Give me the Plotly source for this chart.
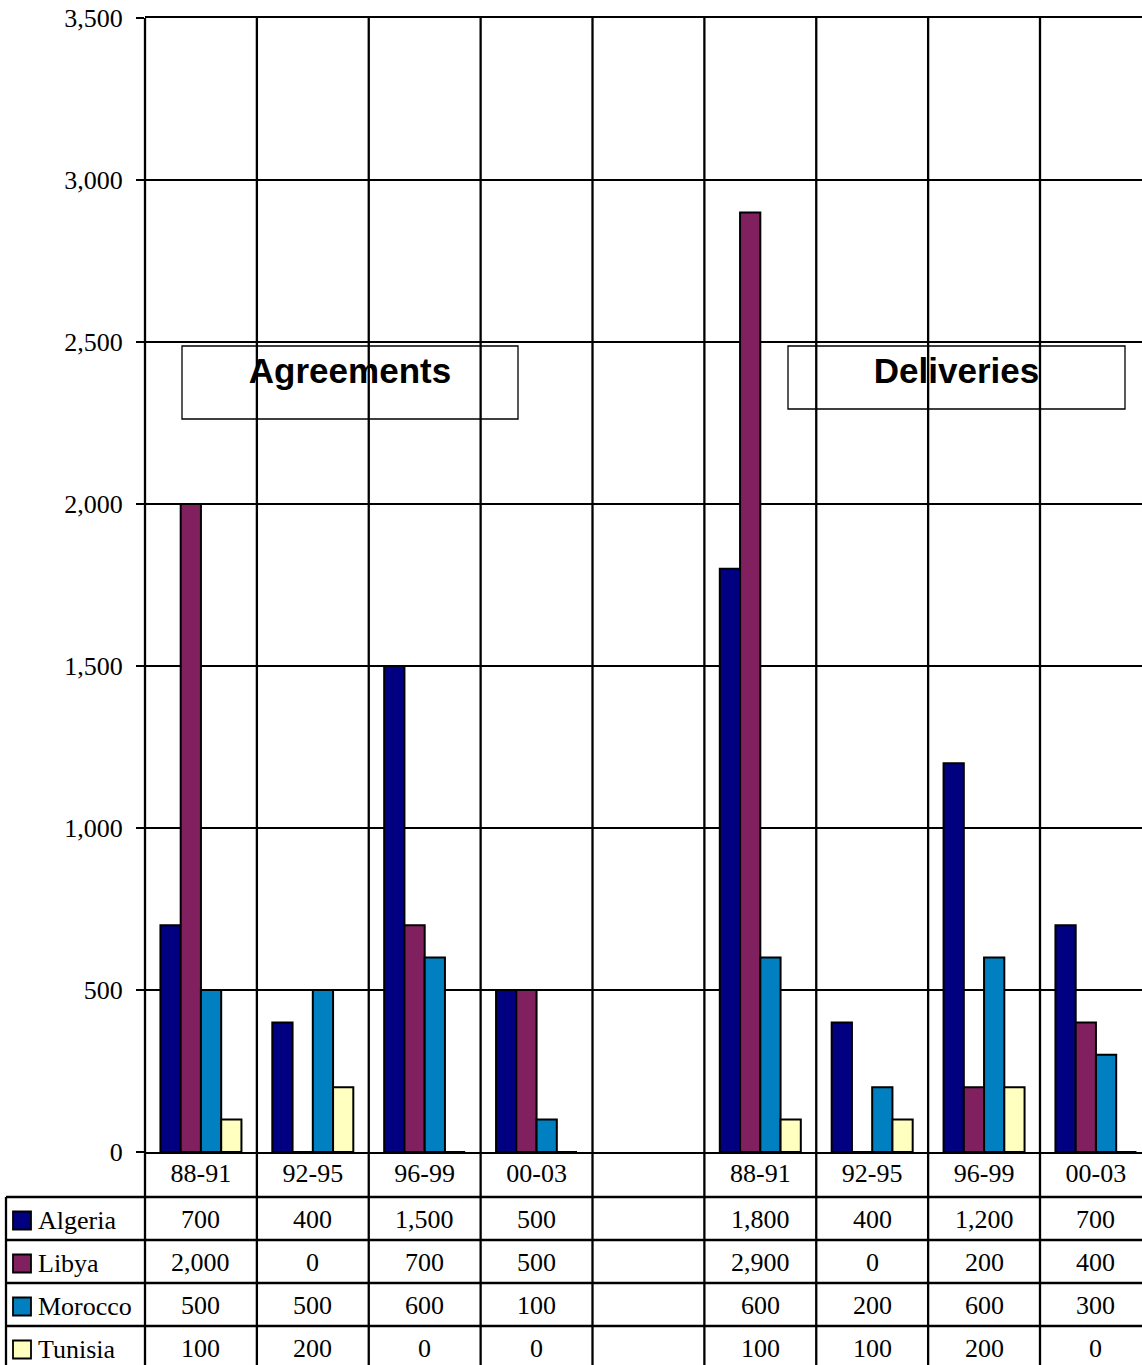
import plotly.graph_objects as go

# ---- data -------------------------------------------------------------
periods = ["88-91", "92-95", "96-99", "00-03"]
countries = ["Algeria", "Libya", "Morocco", "Tunisia"]
colors = ["#000080", "#80205F", "#0080C0", "#FFFFC0"]

agreements = {
    "Algeria": [700, 400, 1500, 500],
    "Libya": [2000, 0, 700, 500],
    "Morocco": [500, 500, 600, 100],
    "Tunisia": [100, 200, 0, 0],
}
deliveries = {
    "Algeria": [1800, 400, 1200, 700],
    "Libya": [2900, 0, 200, 400],
    "Morocco": [600, 200, 600, 300],
    "Tunisia": [100, 100, 200, 0],
}

# one empty slot separates the two panels
slot_labels = periods + [""] + periods
slot_x = list(range(len(slot_labels)))

W, H = 1142, 1365
ML, MR, MT, MB = 145, 0, 18, 213
PW, PH = W - ML - MR, H - MT - MB
SLOT_PX = 111.875  # width of one category slot
LW = 2.3           # rule width


def px(xp):
    return (xp - ML) / PW


def py(yp):
    return (MT + PH - yp) / PH


fig = go.Figure()

for name, col in zip(countries, colors):
    vals = agreements[name] + [None] + deliveries[name]
    fig.add_trace(go.Bar(
        x=slot_x, y=vals, name=name,
        marker=dict(color=col, line=dict(color="black", width=2)),
        showlegend=False,
    ))

shapes = []
annotations = []

# panel caption boxes
for text, x0, x1, y0, y1 in [("Agreements", 182, 518, 346, 419),
                             ("Deliveries", 788, 1125, 346, 409)]:
    shapes.append(dict(
        type="rect", xref="paper", yref="paper",
        x0=px(x0), x1=px(x1), y0=py(y1), y1=py(y0),
        line=dict(color="black", width=1.3), fillcolor="rgba(0,0,0,0)",
        label=dict(text=f"<b>{text}</b>", textposition="top center",
                   padding=2,
                   font=dict(family="Liberation Sans", size=35, color="black")),
    ))

# table rows (header + one row per country)
row_edges = [1152, 1197, 1240, 1283, 1326, 1369]
table_bottom = py(1372)

# vertical slot separators through plot and table
shapes.append(dict(type="line", xref="paper", yref="paper",
                   x0=0, x1=0, y0=table_bottom, y1=1,
                   line=dict(color="black", width=LW)))
for b in range(len(slot_labels) - 1):
    shapes.append(dict(type="line", xref="x", yref="paper",
                       x0=b + 0.5, x1=b + 0.5, y0=table_bottom, y1=1,
                       line=dict(color="black", width=LW)))

# table left border and horizontal rules
shapes.append(dict(type="line", xref="paper", yref="paper",
                   x0=px(6), x1=px(6), y0=table_bottom, y1=py(1197),
                   line=dict(color="black", width=LW)))
for e in row_edges[1:5]:
    shapes.append(dict(type="line", xref="paper", yref="paper",
                       x0=px(6), x1=1.01, y0=py(e), y1=py(e),
                       line=dict(color="black", width=LW)))

cell_font = dict(family="Liberation Serif", size=26, color="black")

for r, (name, col) in enumerate(zip(countries, colors)):
    top, bot = row_edges[r + 1], row_edges[r + 2]
    cy = (top + bot) / 2
    # legend key
    shapes.append(dict(type="rect", xref="paper", yref="paper",
                       x0=px(13), x1=px(31), y0=py(cy + 11), y1=py(cy - 7),
                       fillcolor=col, line=dict(color="black", width=1.8)))
    annotations.append(dict(xref="paper", yref="paper", x=px(36), y=py(cy + 2),
                            text=name, showarrow=False, xanchor="left",
                            yanchor="middle", font=cell_font))
    vals = agreements[name] + [None] + deliveries[name]
    for xi, v in zip(slot_x, vals):
        if v is None:
            continue
        annotations.append(dict(xref="x", yref="paper", x=xi, y=py(cy + 1),
                                text=f"{v:,}", showarrow=False,
                                xanchor="center", yanchor="middle",
                                font=cell_font))

fig.update_layout(
    width=W, height=H,
    margin=dict(l=ML, r=MR, t=MT, b=MB, pad=0),
    paper_bgcolor="white", plot_bgcolor="white",
    barmode="group", bargap=0.276, bargroupgap=0,
    shapes=shapes, annotations=annotations,
    font=dict(family="Liberation Serif", size=26, color="black"),
    xaxis=dict(
        range=[-0.5, -0.5 + PW / SLOT_PX],
        tickmode="array", tickvals=slot_x, ticktext=slot_labels,
        showgrid=False, zeroline=False,
        showline=True, linecolor="black", linewidth=LW, mirror=True,
        ticks="", ticklabelstandoff=-3,
        tickfont=cell_font,
    ),
    yaxis=dict(
        range=[0, 3500], dtick=500, tickformat=",d",
        showgrid=True, gridcolor="black", gridwidth=LW,
        zeroline=False, showline=False,
        ticks="outside", ticklen=8, tickwidth=LW, tickcolor="black",
        ticklabelstandoff=8,
        tickfont=cell_font,
    ),
)

fig.write_html("out.html")
